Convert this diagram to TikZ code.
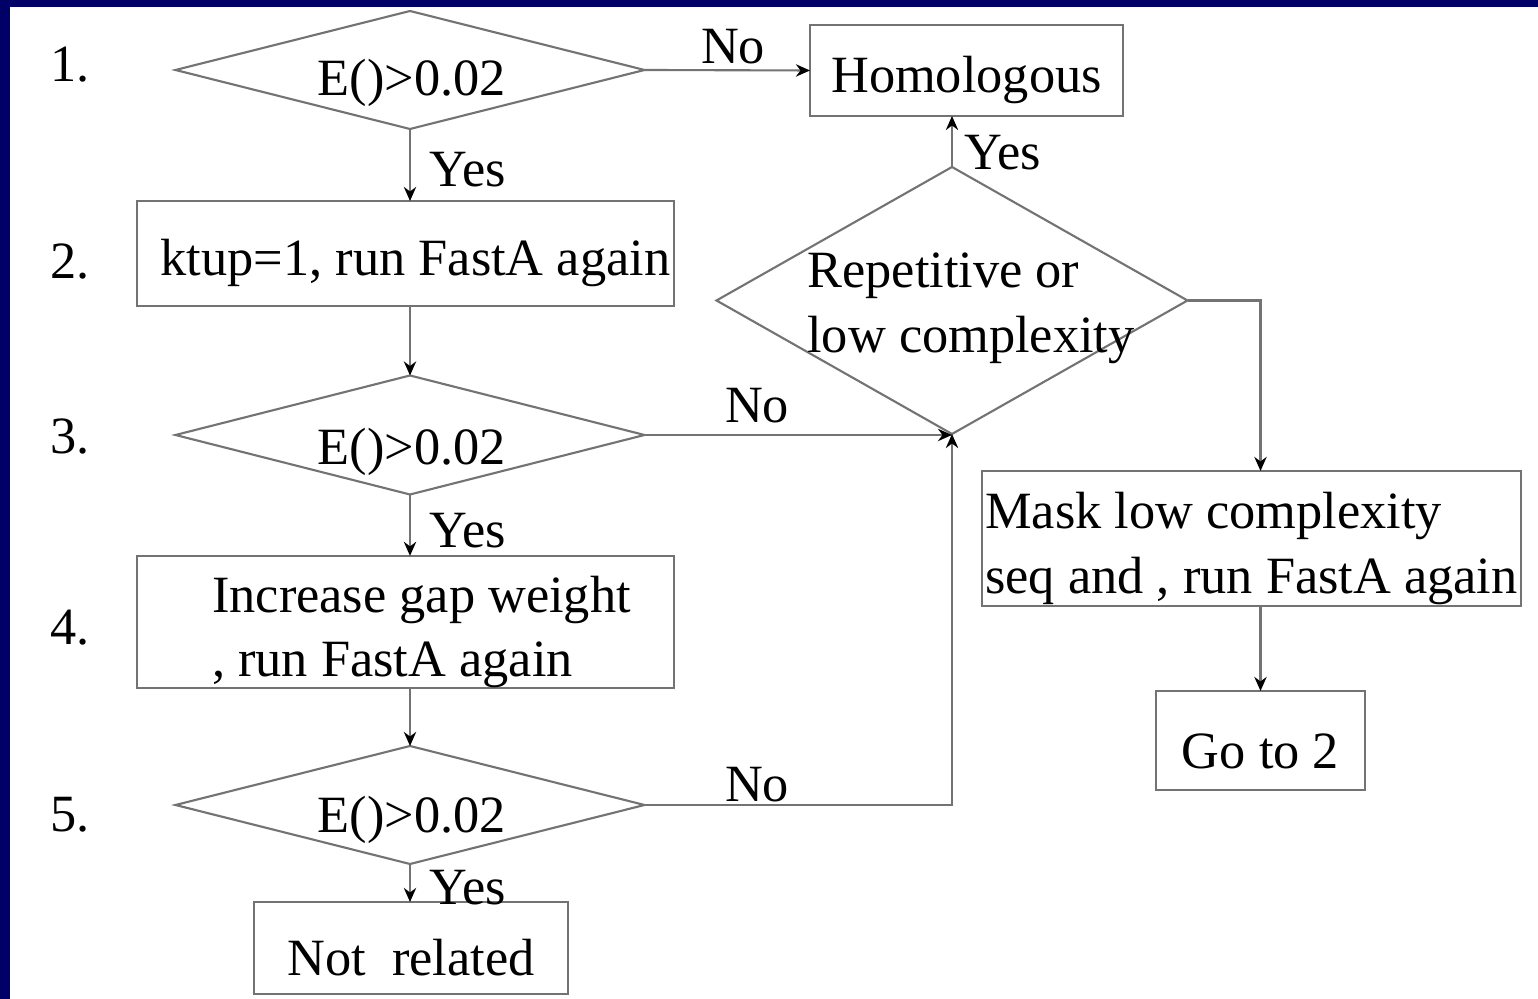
\documentclass[tikz,border=0pt]{standalone}
\usepackage{fontspec}
\setmainfont{Liberation Serif}
\usetikzlibrary{shapes.geometric,arrows.meta}
\definecolor{slidenavy}{RGB}{0,0,102}
\newcommand\boxstrut{\rule{0pt}{16pt}}

\begin{document}
\begin{tikzpicture}[
  every node/.style={font=\fontsize{14.9pt}{18.4pt}\selectfont, inner sep=0pt, outer sep=0pt},
  decide/.style={diamond, draw=black!55, line width=0.6pt, minimum width=4.69cm, minimum height=1.18cm},
  stepbox/.style={rectangle, draw=black!55, line width=0.6pt},
  flow/.style={draw=black!55, line width=0.6pt, -{Stealth[length=4pt,width=3.5pt,black]}},
]
			%%%%% START %%%%%
			
			\useasboundingbox (0, 0) rectangle (15.38, 9.99);
			\fill[white] (0, 0) rectangle (15.38, 9.99);
			\fill[slidenavy] (0, 9.92) rectangle (15.38, 9.99);
			\fill[slidenavy] (0, 0) rectangle (0.10, 9.99);
			
			\node (n1) at (0.70, 9.34) {1.};
			\node (n2) at (0.70, 7.37) {2.};
			\node (n3) at (0.70, 5.62) {3.};
			\node (n4) at (0.70, 3.71) {4.};
			\node (n5) at (0.70, 1.84) {5.};
			
			\node[decide] (d1) at (4.10, 9.29) {};
			\node (d1txt) at (4.12, 9.16) {E()>0.02};
			\node[stepbox, minimum width=3.13cm, minimum height=0.91cm] (homol) at (9.665, 9.285) {\boxstrut Homologous};
			
			\node[stepbox, minimum width=5.37cm, minimum height=1.05cm] (box2) at (4.055, 7.455) {\boxstrut\hspace*{0.2cm}ktup=1, run FastA again};
			
			\node[decide, minimum height=1.19cm] (d3) at (4.10, 5.64) {};
			\node (d3txt) at (4.12, 5.47) {E()>0.02};
			
			\node[stepbox, minimum width=5.37cm, minimum height=1.32cm, align=left] (box4) at (4.055, 3.77) {\boxstrut\hspace*{0.32cm}Increase gap weight\\\hspace*{0.32cm}, run FastA again};
			
			\node[decide] (d5) at (4.10, 1.94) {};
			\node (d5txt) at (4.12, 1.79) {E()>0.02};
			
			\node[stepbox, minimum width=3.14cm, minimum height=0.92cm] (notrel) at (4.11, 0.51) {\boxstrut Not~~related};
			
			\node[decide, minimum width=4.71cm, minimum height=2.67cm] (dR) at (9.52, 6.985) {};
			\node[align=left] (dRtxt) at (9.71, 6.91) {Repetitive or\\low complexity};
			
			\node[stepbox, minimum width=5.39cm, minimum height=1.35cm, align=left] (mask) at (12.515, 4.605) {\boxstrut Mask low complexity\\seq and , run FastA again};
			\node[stepbox, minimum width=2.09cm, minimum height=0.99cm] (goto) at (12.605, 2.585) {\boxstrut Go to 2};
			
			\draw[flow] (d1.east) -- (homol.west);
			\draw[flow] (d1.south) -- (d1.south |- box2.north);
			\draw[flow] (d1.south |- box2.south) -- (d3.north);
			\draw[flow] (d3.south) -- (d3.south |- box4.north);
			\draw[flow] (d3.south |- box4.south) -- (d5.north);
			\draw[flow] (d5.south) -- (d5.south |- notrel.north);
			
			\draw[flow] (d3.east) -- (d3.east -| dR.south);
			\draw[flow] (d5.east) -| (dR.south);
			\draw[flow] (dR.north) -- (dR.north |- homol.south);
			\draw[flow] (dR.east) -| (goto.north |- mask.north);
			\draw[flow] (goto.north |- mask.south) -- (goto.north);
			
			\node (no1) at (7.33, 9.52) {No};
			\node (yes1) at (4.68, 8.29) {Yes};
			\node (yes3) at (4.68, 4.68) {Yes};
			\node (yes5) at (4.68, 1.11) {Yes};
			\node (no3) at (7.57, 5.93) {No};
			\node (no5) at (7.57, 2.14) {No};
			\node (yesR) at (10.03, 8.46) {Yes};
			
			%%%%% END %%%%%
\end{tikzpicture}
\end{document}
